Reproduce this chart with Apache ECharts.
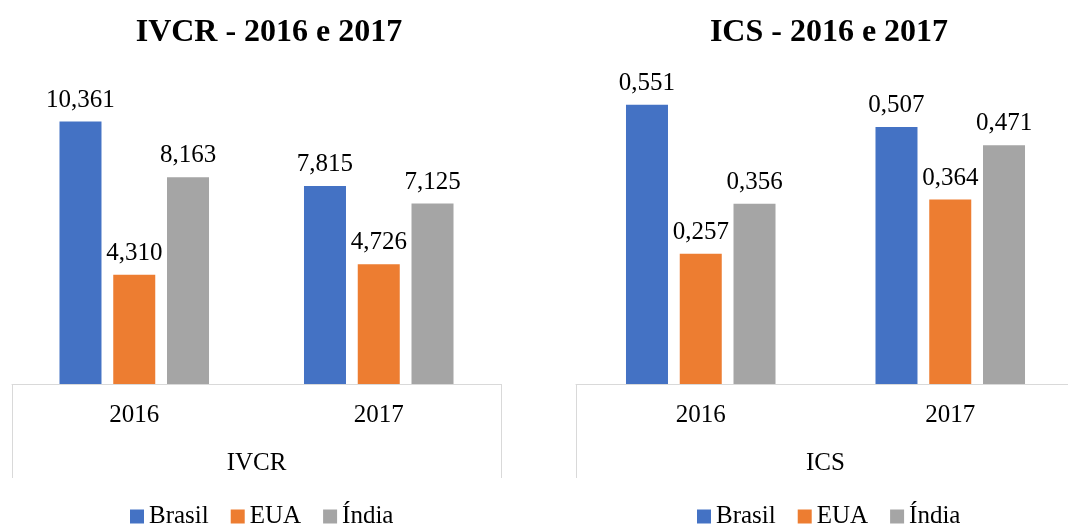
<!DOCTYPE html>
<html>
<head>
<meta charset="utf-8">
<script src="https://cdn.jsdelivr.net/npm/echarts@6/dist/echarts.min.js"></script>
<style>
  html, body { margin: 0; padding: 0; background: #fff; }
  #chart { width: 1068px; height: 524px; }
</style>
</head>
<body>
<div id="chart"></div>
<script>
// dados
var years = ['2016', '2017'];
var seriesNames = ['Brasil', 'EUA', 'Índia'];
var ivcrBrasil = [10.361, 7.815];
var ivcrEua = [4.310, 4.726];
var ivcrIndia = [8.163, 7.125];
var icsBrasil = [0.551, 0.507];
var icsEua = [0.257, 0.364];
var icsIndia = [0.356, 0.471];

var colors = ['#4472C4', '#ED7D31', '#A5A5A5'];
var font = '"Liberation Serif", serif';
var gridLine = '#d9d9d9';

function fmt(p) {
    return p.value.toFixed(3).replace('.', ',');
}

function barSeries(name, data, idx, color) {
    return {
        name: name,
        type: 'bar',
        xAxisIndex: idx * 2,
        yAxisIndex: idx,
        data: data,
        barWidth: 42,
        barGap: '28%',
        itemStyle: { color: color },
        label: {
            show: true,
            position: 'top',
            distance: 9,
            formatter: fmt,
            color: '#000',
            fontFamily: font,
            fontSize: 25
        }
    };
}

function yearAxis(grid) {
    return {
        type: 'category',
        gridIndex: grid,
        position: 'bottom',
        data: years,
        axisLine: { show: true, lineStyle: { color: gridLine, width: 1 } },
        axisTick: { show: false },
        axisLabel: { margin: 19, color: '#000', fontFamily: font, fontSize: 25 }
    };
}

function groupAxis(grid, label) {
    return {
        type: 'category',
        gridIndex: grid,
        position: 'bottom',
        data: [label],
        axisLine: { show: false },
        axisTick: { show: true, length: 94, lineStyle: { color: gridLine, width: 1 } },
        axisLabel: { margin: 67, color: '#000', fontFamily: font, fontSize: 25 }
    };
}

function valueAxis(grid, max) {
    return {
        type: 'value',
        gridIndex: grid,
        min: 0,
        max: max,
        show: false,
        splitLine: { show: false }
    };
}

function legendAt(x) {
    var style = { fontFamily: font, fontSize: 25, color: '#000' };
    return {
        data: seriesNames.map(function (n) {
            return { name: n, icon: 'rect', textStyle: style };
        }),
        left: x, top: 499,
        itemWidth: 14, itemHeight: 14, itemGap: 22,
        textStyle: style
    };
}

var chart = echarts.init(document.getElementById('chart'));

chart.setOption({
    animation: false,
    backgroundColor: '#fff',
    textStyle: { fontFamily: font },
    title: [
        {
            text: 'IVCR - 2016 e 2017',
            left: 264, top: 12, textAlign: 'center',
            textStyle: { fontFamily: font, fontSize: 32, fontWeight: 'bold', color: '#000' }
        },
        {
            text: 'ICS - 2016 e 2017',
            left: 824, top: 12, textAlign: 'center',
            textStyle: { fontFamily: font, fontSize: 32, fontWeight: 'bold', color: '#000' }
        }
    ],
    legend: [legendAt(125), legendAt(692)],
    grid: [
        { left: 12, width: 489, top: 80, height: 304, containLabel: false, outerBoundsMode: 'none' },
        { left: 576, width: 499, top: 80, height: 304, containLabel: false, outerBoundsMode: 'none' }
    ],
    xAxis: [yearAxis(0), groupAxis(0, 'IVCR'), yearAxis(1), groupAxis(1, 'ICS')],
    yAxis: [valueAxis(0, 12), valueAxis(1, 0.6)],
    series: [
        barSeries('Brasil', ivcrBrasil, 0, colors[0]),
        barSeries('EUA', ivcrEua, 0, colors[1]),
        barSeries('Índia', ivcrIndia, 0, colors[2]),
        barSeries('Brasil', icsBrasil, 1, colors[0]),
        barSeries('EUA', icsEua, 1, colors[1]),
        barSeries('Índia', icsIndia, 1, colors[2])
    ]
});
</script>
</body>
</html>
